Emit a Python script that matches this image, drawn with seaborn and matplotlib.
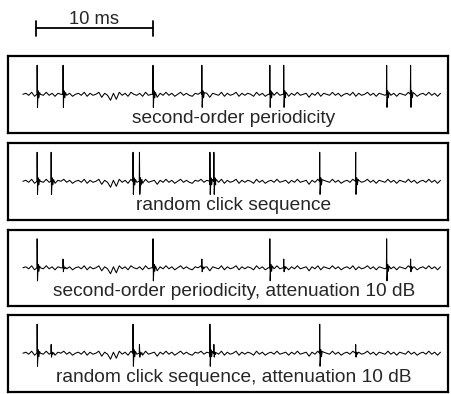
import matplotlib
matplotlib.use("Agg")
import matplotlib.pyplot as plt
import seaborn as sns
import pandas as pd

# click times in ms (0 = left edge of the boxes)
CLICKS_PERIODIC = [2.52, 4.74, 12.44, 16.62, 22.44, 23.63, 32.44, 34.49]
CLICKS_RANDOM = [2.52, 3.72, 10.73, 11.28, 17.31, 17.65, 26.71, 29.79]

# relative click amplitudes, every second click -10 dB in the attenuated ones
AMP_FULL = [1.0, 1.0, 1.0, 1.0, 1.0, 1.0, 1.0, 1.0]
AMP_ATTEN = [1.0, 0.3, 1.0, 0.3, 1.0, 0.3, 1.0, 0.3]

LABELS = [
    "second-order periodicity",
    "random click sequence",
    "second-order periodicity, attenuation 10 dB",
    "random click sequence, attenuation 10 dB",
]

# one click: time offsets (ms) and shape
CLICK_DT = [-0.02, 0.0, 0.03, 0.09, 0.15, 0.21]
CLICK_SHAPE = [0.0, 1.0, -0.45, 0.12, -0.12, 0.06]

# background noise (pixels), one value every 0.25 ms starting at 1.3 ms
NOISE_T0 = 1.3
NOISE_STEP = 0.25
NOISE = [
    0, 1, -1, 2, -2, 1, 0, -1, 2, -1,
    1, -2, 1, 0, 2, -1, 1, -2, 0, 1,
    -1, 2, -2, 1, -1, 0, 2, -3, 1, -1,
    -6, 1, -5, 2, -1, 1, -2, 2, 0, -1,
    1, -2, 2, -1, 0, 1, -3, 1, -1, 2,
    -1, 1, -2, 0, 2, -1, 1, -1, -2, 1,
    0, 2, -1, 1, -3, 1, 0, -1, 2, -2,
    1, -1, 0, 2, -2, 1, -1, 1, 0, -2,
    2, -1, 1, -2, 0, 1, -1, 2, -1, 0,
    1, -2, 1, -1, 2, -1, 0, 1, -3, 1,
    -1, 2, -2, 1, 0, -1, 2, -1, 1, -2,
    0, 1, -1, 2, -2, 1, -1, 0, 2, -1,
    1, -2, 1, 0, -1, 2, -1, 1, -2, 1,
    0, -1, 2, -1, 1, -2, 0, 1, -1, 2,
    -1, 1, -2, 1,
]

CLICK_PX = 29.0  # height of a full click in pixels
X_MAX = 37.65    # ms across the box
SCALE_START = 2.41
SCALE_LEN = 10


def make_trace(clicks, amps):
    t = [NOISE_T0 + i * NOISE_STEP for i in range(len(NOISE))]
    v = [n / CLICK_PX for n in NOISE]
    for c, a in zip(clicks, amps):
        for dt, s in zip(CLICK_DT, CLICK_SHAPE):
            t.append(c + dt)
            v.append(a * s)
    return pd.DataFrame({"t": t, "v": v}).sort_values("t")


sns.set_style("white")
plt.rcParams['font.family'] = ['Liberation Sans', 'DejaVu Sans']

W, H = 451, 394
fig = plt.figure(figsize=(W / 100, H / 100), dpi=100)

left_px, right_px = 7.7, 447.5
tops_px = [56.3, 143.3, 229.8, 315.2]
box_h = 76.5
base_from_top = 38.0
text_from_top = 62.0

panels = [
    (CLICKS_PERIODIC, AMP_FULL),
    (CLICKS_RANDOM, AMP_FULL),
    (CLICKS_PERIODIC, AMP_ATTEN),
    (CLICKS_RANDOM, AMP_ATTEN),
]

for (clicks, amps), label, top in zip(panels, LABELS, tops_px):
    ax = fig.add_axes([left_px / W, 1 - (top + box_h) / H,
                       (right_px - left_px) / W, box_h / H])
    df = make_trace(clicks, amps)
    sns.lineplot(data=df, x="t", y="v", ax=ax, color="black", lw=0.75,
                 estimator=None, sort=False)
    ax.set_xlim(0, X_MAX)
    ax.set_ylim(-(box_h - base_from_top) / CLICK_PX, base_from_top / CLICK_PX)
    ax.set_xticks([])
    ax.set_yticks([])
    ax.set_xlabel("")
    ax.set_ylabel("")
    for sp in ax.spines.values():
        sp.set_visible(True)
        sp.set_linewidth(1.6)
        sp.set_color("black")
    ax.text(0.514, -(text_from_top - base_from_top) / CLICK_PX, label,
            transform=ax.get_yaxis_transform(), ha="center", va="center",
            fontsize=13.8)

# scale bar on top
sax = fig.add_axes([left_px / W, 1 - 50 / H, (right_px - left_px) / W, 50 / H])
sax.set_xlim(0, X_MAX)
sax.set_ylim(50, 0)
sax.axis("off")
sax.plot([SCALE_START, SCALE_START + SCALE_LEN], [28.3, 28.3], color="black", lw=1.3)
sax.plot([SCALE_START, SCALE_START], [21, 36], color="black", lw=1.3)
sax.plot([SCALE_START + SCALE_LEN] * 2, [21, 36], color="black", lw=1.3)
sax.text(SCALE_START + SCALE_LEN / 2, 19, "10 ms", ha="center", va="center",
         fontsize=13.2)

fig.savefig("out.png", dpi=100)
